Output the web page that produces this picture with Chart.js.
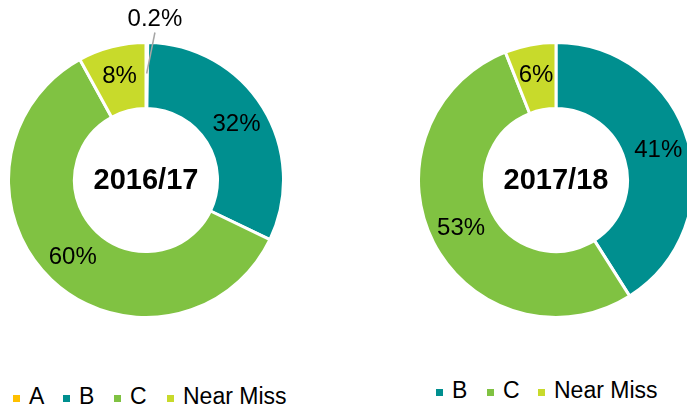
<!DOCTYPE html>
<html>
<head>
<meta charset="utf-8">
<script src="https://cdn.jsdelivr.net/npm/chart.js@4.4.1/dist/chart.umd.min.js"></script>
<style>
  html, body { margin: 0; padding: 0; background: #fff; overflow: hidden; }
  body { width: 687px; height: 407px; position: relative; font-family: Arial, "Liberation Sans", sans-serif; }
  .chart { position: absolute; }
  .legend { position: absolute; font-size: 23px; color: #000; white-space: nowrap; }
  .legend span.item { position: absolute; top: 0; }
  .legend i { position: absolute; width: 7px; height: 7px; }
</style>
</head>
<body>
<div class="chart" style="left:7px;top:0px"><canvas id="chart1" width="278" height="319"></canvas></div>
<div class="chart" style="left:417px;top:0px"><canvas id="chart2" width="278" height="319"></canvas></div>
<div class="legend" id="legend1" style="left:13px;top:383px"></div>
<div class="legend" id="legend2" style="left:436px;top:377px"></div>
<script>
// Data
const labels1 = ['A', 'B', 'C', 'Near Miss'];
const values1 = [0.2, 32, 60, 8];
const colors1 = ['#FFC000', '#008F8F', '#80C242', '#C8DA2B'];
const title1 = '2016/17';

const labels2 = ['B', 'C', 'Near Miss'];
const values2 = [41, 53, 6];
const colors2 = ['#008F8F', '#80C242', '#C8DA2B'];
const title2 = '2017/18';

// percent labels + center title
const donutLabels = {
    id: 'donutLabels',
    afterDraw(chart, args, opts) {
        const ctx = chart.ctx;
        const meta = chart.getDatasetMeta(0);
        const data = chart.data.datasets[0].data;
        ctx.save();
        ctx.fillStyle = '#000';
        ctx.textAlign = 'center';
        ctx.textBaseline = 'middle';
        meta.data.forEach(function(arc, i) {
            const v = data[i];
            const txt = v + '%';
            ctx.font = '24px Arial, "Liberation Sans", sans-serif';
            const mid = (arc.startAngle + arc.endAngle) / 2;
            const r = (arc.innerRadius + arc.outerRadius) / 2 + 2;
            const x = arc.x + Math.cos(mid) * r;
            const y = arc.y + Math.sin(mid) * r;
            if (v < 1) {
                // small slice: leader line to label outside
                const ex = arc.x + Math.cos(mid) * (arc.outerRadius + 10) + 8;
                const ey = arc.y + Math.sin(mid) * (arc.outerRadius + 10);
                ctx.strokeStyle = '#A6A6A6';
                ctx.lineWidth = 1.5;
                ctx.beginPath();
                ctx.moveTo(x, y);
                ctx.lineTo(ex, ey);
                ctx.stroke();
                ctx.fillText(txt, ex, ey - 13);
            } else {
                ctx.fillText(txt, x, y);
            }
        });
        ctx.font = 'bold 29px Arial, "Liberation Sans", sans-serif';
        const a0 = meta.data[0];
        ctx.fillText(opts.title, a0.x, a0.y + 1);
        ctx.restore();
    }
};

function makeDonut(id, labels, values, colors, title) {
    const ctx = document.getElementById(id).getContext('2d');
    return new Chart(ctx, {
        type: 'doughnut',
        data: {
            labels: labels,
            datasets: [{
                data: values,
                backgroundColor: colors,
                borderColor: '#fff',
                borderWidth: 3
            }]
        },
        options: {
            responsive: false,
            animation: false,
            cutout: '52%',
            layout: { padding: { top: 41 } },
            plugins: {
                legend: { display: false },
                tooltip: { enabled: false },
                donutLabels: { title: title }
            }
        },
        plugins: [donutLabels]
    });
}

function makeLegend(id, labels, colors, xs) {
    const el = document.getElementById(id);
    labels.forEach(function(lab, i) {
        const item = document.createElement('span');
        item.className = 'item';
        item.style.left = xs[i] + 'px';
        const box = document.createElement('i');
        box.style.background = colors[i];
        box.style.left = '0px';
        box.style.top = '12px';
        const t = document.createElement('span');
        t.textContent = lab;
        t.style.position = 'absolute';
        t.style.left = '16px';
        t.style.top = '0px';
        item.appendChild(box);
        item.appendChild(t);
        el.appendChild(item);
    });
}

makeDonut('chart1', labels1, values1, colors1, title1);
makeDonut('chart2', labels2, values2, colors2, title2);
makeLegend('legend1', labels1, colors1, [0, 50, 101, 154]);
makeLegend('legend2', labels2, colors2, [0, 51, 102]);
</script>
</body>
</html>
